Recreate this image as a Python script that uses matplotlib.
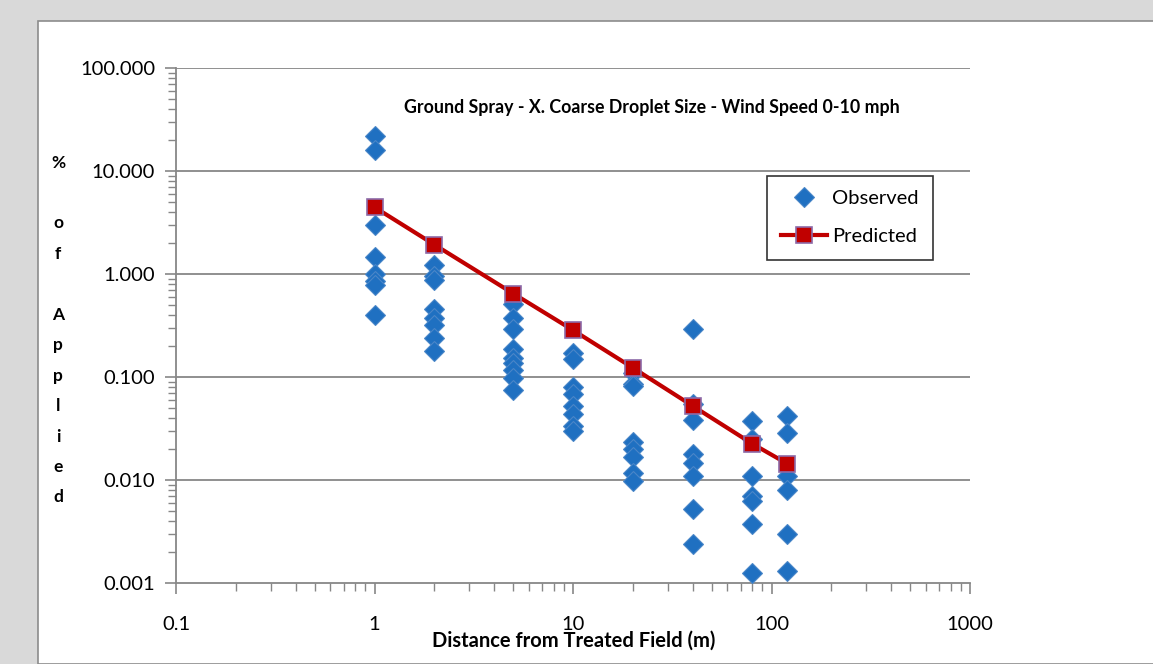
import matplotlib
matplotlib.use("Agg")
import matplotlib.pyplot as plt
from matplotlib.patches import Rectangle
from matplotlib.lines import Line2D
from matplotlib.ticker import LogLocator, FixedLocator, NullFormatter

plt.rcParams['font.family'] = ['Lato', 'DejaVu Sans']

# Observed drift deposition (% of applied) at each downwind distance (m)
obs_1m = [22.0, 15.9, 3.0, 1.46, 0.99, 0.85, 0.78, 0.40]
obs_2m = [1.21, 0.95, 0.88, 0.46, 0.37, 0.32, 0.24, 0.18]
obs_5m = [0.51, 0.37, 0.29, 0.185, 0.154, 0.137, 0.116, 0.098, 0.074]
obs_10m = [0.172, 0.148, 0.080, 0.068, 0.052, 0.0435, 0.0336, 0.030]
obs_20m = [0.110, 0.086, 0.082, 0.0233, 0.0201, 0.0169, 0.0117, 0.0097]
obs_40m = [0.295, 0.0546, 0.0382, 0.0180, 0.0146, 0.0109, 0.0052, 0.0024]
obs_80m = [0.037, 0.0251, 0.0109, 0.0070, 0.0062, 0.0037, 0.00125]
obs_120m = [0.0414, 0.0284, 0.0109, 0.0080, 0.0030, 0.0013]

distances = [1, 2, 5, 10, 20, 40, 80, 120]
observed = [obs_1m, obs_2m, obs_5m, obs_10m, obs_20m, obs_40m, obs_80m, obs_120m]
predicted = [4.45, 1.93, 0.646, 0.285, 0.123, 0.0525, 0.0225, 0.0144]

title = "Ground Spray - X. Coarse Droplet Size - Wind Speed 0-10 mph"
xlabel = "Distance from Treated Field (m)"
ylabel = "%\n\no\nf\n\nA\np\np\nl\ni\ne\nd"
x_ticks = [0.1, 1, 10, 100, 1000]
x_ticklabels = ["0.1", "1", "10", "100", "1000"]
y_ticks = [0.001, 0.01, 0.1, 1, 10, 100]
y_ticklabels = ["0.001", "0.010", "0.100", "1.000", "10.000", "100.000"]

W, H = 1153, 664
fig = plt.figure(figsize=(W / 100, H / 100), dpi=100)
fig.patch.set_facecolor("#d9d9d9")

# white chart area with a thin grey frame, kept behind the axes
fig.patches.append(Rectangle((38 / W, 0), 1.2, 1 - 21 / H, transform=fig.transFigure,
                             facecolor="white", edgecolor="#8c8c8c", linewidth=1.2,
                             zorder=-5))

ax = fig.add_axes([176 / W, 1 - 583 / H, (970 - 176) / W, (583 - 68) / H])
ax.set_facecolor("white")
ax.set_xscale("log")
ax.set_yscale("log")
ax.set_xlim(0.1, 1000)
ax.set_ylim(0.001, 100)

grid_c = "#878787"
for s in ("top", "right"):
    ax.spines[s].set_visible(False)
for s in ("left", "bottom"):
    ax.spines[s].set_color(grid_c)
    ax.spines[s].set_linewidth(1.3)

ax.yaxis.set_major_locator(FixedLocator(y_ticks))
ax.xaxis.set_major_locator(FixedLocator(x_ticks))
ax.set_yticklabels(y_ticklabels)
ax.set_xticklabels(x_ticklabels)
ax.xaxis.set_minor_locator(LogLocator(base=10, subs=range(2, 10)))
ax.yaxis.set_minor_locator(LogLocator(base=10, subs=range(2, 10)))
ax.xaxis.set_minor_formatter(NullFormatter())
ax.yaxis.set_minor_formatter(NullFormatter())
ax.tick_params(axis="both", which="major", direction="out", length=8, width=1.2,
               color=grid_c, labelsize=14.5, labelcolor="#000000")
ax.tick_params(axis="both", which="minor", direction="out", length=6, width=1.0,
               color=grid_c)
ax.tick_params(axis="x", which="major", pad=16)
ax.tick_params(axis="y", which="major", pad=7)

for yv in y_ticks[1:]:
    ax.axhline(yv, color=grid_c, linewidth=1.3, zorder=1)

# observed points
for d, vals in zip(distances, observed):
    ax.plot([d] * len(vals), vals, linestyle="none", marker="D", markersize=9.8,
            markerfacecolor="#1f70c1", markeredgecolor="#4a86c8",
            markeredgewidth=0.8, zorder=3)

# predicted curve
ax.plot(distances, predicted, color="#c00000", linewidth=3.0, marker="s",
        markersize=12, markerfacecolor="#c00000", markeredgecolor="#8c6aa8",
        markeredgewidth=1.2, zorder=4)

fig.text(652 / W, 1 - 108 / H, title, ha="center", va="center",
         fontsize=12.8, fontweight="bold")

fig.text(574 / W, 1 - 641 / H, xlabel, ha="center", va="center",
         fontsize=14.5, fontweight="bold")
fig.text(58 / W, 1 - 330 / H, ylabel, ha="center", va="center",
         fontsize=12.5, fontweight="bold", linespacing=2.11)

handles = [
    Line2D([], [], linestyle="none", marker="D", markersize=9.8,
           markerfacecolor="#1f70c1", markeredgecolor="#4a86c8", markeredgewidth=0.8),
    Line2D([], [], color="#c00000", linewidth=3.0, marker="s", markersize=12,
           markerfacecolor="#c00000", markeredgecolor="#8c6aa8", markeredgewidth=1.2),
]
leg = ax.legend(handles, ["Observed", "Predicted"], loc="upper left",
                bbox_to_anchor=((767 - 176) / (970 - 176), 1 - (176 - 68) / (583 - 68)),
                frameon=True, fancybox=False, fontsize=14.5, handlelength=2.3,
                handletextpad=0.25, borderpad=0.7, labelspacing=1.05, borderaxespad=0)
leg.get_frame().set_edgecolor("#000000")
leg.get_frame().set_linewidth(1.2)

fig.savefig("out.png", dpi=100, facecolor=fig.get_facecolor())
